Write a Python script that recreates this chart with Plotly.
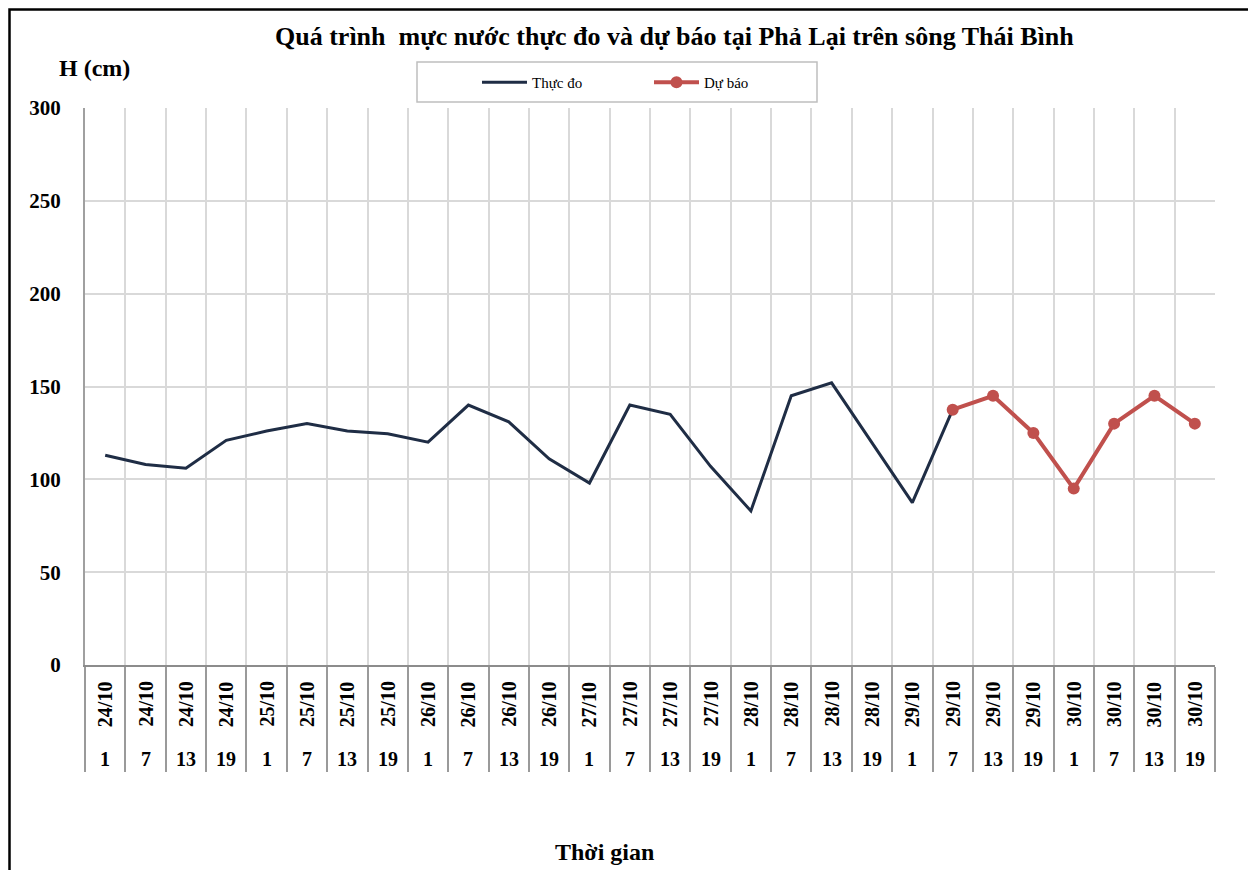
import plotly.graph_objects as go

dates = ["24/10"] * 4 + ["25/10"] * 4 + ["26/10"] * 4 + ["27/10"] * 4 + ["28/10"] * 4 + ["29/10"] * 4 + ["30/10"] * 4
hours = ["1", "7", "13", "19"] * 7
categories = [f"{d} {h}" for d, h in zip(dates, hours)]

observed = [113, 108, 106, 121, 126, 130, 126, 124.5, 120, 140, 131, 111, 98, 140,
            135, 107, 83, 145, 152, 120, 87.5, 137.5]
forecast = [137.5, 145, 125, 95, 130, 145, 130]
forecast_start = 21

FONT = "Liberation Serif"
OFF = 8  # page body margin of the html
W, H = 1256 - OFF, 870 - OFF
# plot area in page pixels: x 85..1215, y 108..665
PX0, PX1, PY0, PY1 = 85, 1215, 108, 665
L, T = PX0 - OFF, PY0 - OFF
R = W - (PX1 - OFF)
B = H - (PY1 - OFF)
pw, ph = PX1 - PX0, PY1 - PY0


def px_x(x):
    return (x - PX0) / pw


def px_y(y):
    return (PY1 - y) / ph


fig = go.Figure()
fig.add_trace(go.Scatter(
    x=categories[:len(observed)], y=observed, name="Thực đo", mode="lines",
    line=dict(color="#1f2d45", width=3),
))
fig.add_trace(go.Scatter(
    x=categories[forecast_start:forecast_start + len(forecast)], y=forecast, name="Dự báo",
    mode="lines+markers", line=dict(color="#c0504d", width=4),
    marker=dict(color="#c0504d", size=12),
))

annotations = []
for c, d, h in zip(categories, dates, hours):
    annotations.append(dict(x=c, y=px_y(704), xref="x", yref="paper", text=f"<b>{d}</b>",
                            textangle=-90, showarrow=False, xanchor="center", yanchor="middle",
                            font=dict(family=FONT, size=20, color="black")))
    annotations.append(dict(x=c, y=px_y(759), xref="x", yref="paper", text=f"<b>{h}</b>",
                            showarrow=False, xanchor="center", yanchor="middle",
                            font=dict(family=FONT, size=20, color="black")))

annotations.append(dict(x=px_x(674), y=px_y(36), xref="paper", yref="paper",
                        xanchor="center", yanchor="middle",
                        text="<b>Quá trình  mực nước thực đo và dự báo tại Phả Lại trên sông Thái Bình</b>",
                        showarrow=False, font=dict(family=FONT, size=26, color="black")))
annotations.append(dict(x=px_x(94), y=px_y(68), xref="paper", yref="paper", text="<b>H (cm)</b>",
                        xanchor="center", yanchor="middle",
                        showarrow=False, font=dict(family=FONT, size=24, color="black")))
annotations.append(dict(x=px_x(604), y=px_y(852), xref="paper", yref="paper", text="<b>Thời gian</b>",
                        xanchor="center", yanchor="middle",
                        showarrow=False, font=dict(family=FONT, size=24, color="black")))

shapes = [
    dict(type="rect", xref="paper", yref="paper", x0=px_x(417), x1=px_x(817), y0=px_y(102), y1=px_y(62),
         line=dict(color="#bfbfbf", width=1.5), fillcolor="rgba(0,0,0,0)", layer="below"),
    dict(type="rect", xref="paper", yref="paper", x0=px_x(OFF + 1.5), x1=px_x(1250), y0=px_y(900),
         y1=px_y(OFF + 1.5), line=dict(color="black", width=2.5), fillcolor="rgba(0,0,0,0)"),
]

fig.update_layout(
    width=W, height=H,
    margin=dict(l=L, r=R, t=T, b=B, autoexpand=False),
    paper_bgcolor="white", plot_bgcolor="white",
    showlegend=True,
    legend=dict(orientation="h", x=px_x(477), y=px_y(66), xanchor="left", yanchor="top",
                bgcolor="rgba(0,0,0,0)", font=dict(family=FONT, size=15, color="black"),
                entrywidth=112, itemwidth=45, tracegroupgap=0),
    xaxis=dict(type="category", categoryorder="array", categoryarray=categories,
               range=[-0.5, len(categories) - 0.5],
               tickson="boundaries", showgrid=True, gridcolor="#d9d9d9", gridwidth=1.5,
               showticklabels=False, ticks="outside", ticklen=105, tickcolor="#9a9a9a", tickwidth=1.5,
               showline=True, linecolor="#8c8c8c", linewidth=2, mirror=False, zeroline=False),
    yaxis=dict(range=[0, 300], dtick=50, showgrid=True, gridcolor="#d9d9d9", gridwidth=2,
               showline=True, linecolor="#a0a0a0", linewidth=2, zeroline=False,
               tickfont=dict(family=FONT, size=21, color="black"), ticklabelstandoff=18,
               tickprefix="<b>", ticksuffix="</b>"),
    annotations=annotations,
    shapes=shapes,
)

fig.write_html("out.html")
